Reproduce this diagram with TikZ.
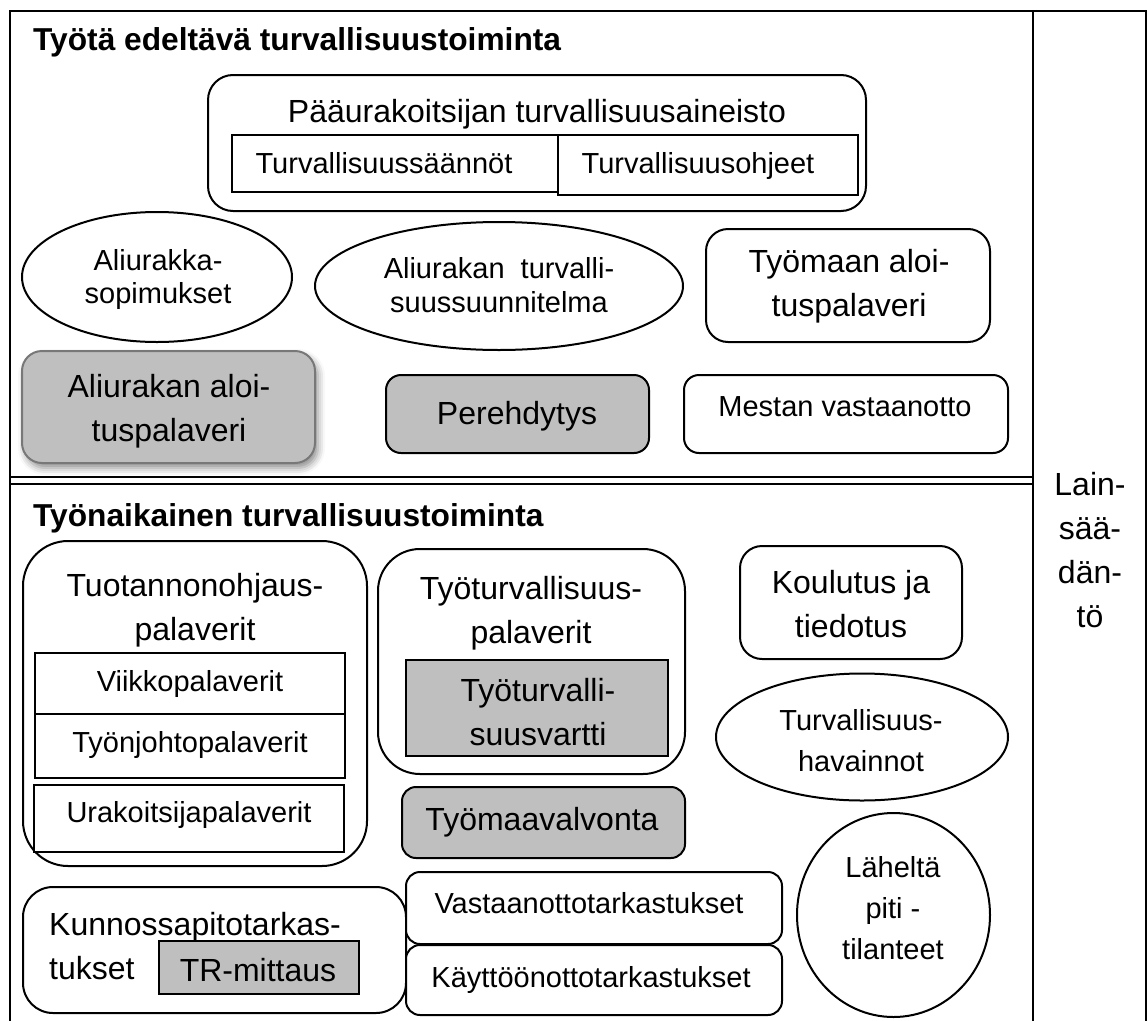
\documentclass[tikz,border=0pt]{standalone}
\usepackage{fontspec}
\setmainfont{Liberation Sans}
\usetikzlibrary{shapes.geometric,shadows.blur}
\definecolor{boxgray}{RGB}{191,191,191}
\definecolor{edgegray}{RGB}{120,120,120}
\tikzset{
  big/.style={font=\fontsize{32}{44}\selectfont, align=center, inner sep=0pt},
  sml/.style={font=\fontsize{29}{41}\selectfont, align=center, inner sep=0pt},
  bl/.style={anchor=base},
  ttl/.style={font=\bfseries\fontsize{31.7}{38}\selectfont, inner sep=0pt, anchor=base west},
  framel/.style={line width=2.2pt},
  shp/.style={draw, line width=2pt, inner sep=0pt, fill=white},
  rbox/.style={shp, rounded corners=#1},
  rbox/.default=20pt,
  sqbox/.style={shp},
  oval/.style={shp, ellipse},
  grayfill/.style={fill=boxgray},
}
\begin{document}
\begin{tikzpicture}[x=1pt,y=1pt]
\useasboundingbox (0,0) rectangle (1148,-1020);
\clip (0,0) rectangle (1148,-1020);
% frames
\draw[framel] (10,-1030) -- (10,-11) -- (1146,-11) -- (1146,-1030);
\draw[framel] (1033,-11) -- (1033,-1030);
\draw[framel] (10,-477) -- (1033,-477);
\draw[framel] (10,-484) -- (1033,-484);

% ---------- top section ----------
\node[ttl] (title1) at (33,-50) {Työtä edeltävä turvallisuustoiminta};

\node[rbox=25pt, minimum width=658pt, minimum height=136pt] (paa) at (537,-143) {};
\node[big, bl] (paat) at (537,-122) {Pääurakoitsijan turvallisuusaineisto};
\node[sqbox, minimum width=326pt, minimum height=57pt] (saan) at (395,-163.5) {};
\node[sml, bl] (saant) at (384,-173.5) {Turvallisuussäännöt};
\node[sqbox, minimum width=300pt, minimum height=60pt] (ohj) at (708,-165) {};
\node[sml, bl] (ohjt) at (698,-173.5) {Turvallisuusohjeet};

\node[oval, minimum width=270pt, minimum height=130pt] (aliso) at (157,-277) {};
\node[sml, font=\fontsize{29}{33}\selectfont] (alisot) at (158,-279) {Aliurakka-\\sopimukset};

\node[oval, minimum width=368pt, minimum height=128pt] (alitsu) at (499,-286) {};
\node[sml, font=\fontsize{29}{34}\selectfont] (alitsut) at (499,-285) {Aliurakan~ turvalli-\\suussuunnitelma};

\node[rbox=22pt, minimum width=284pt, minimum height=113pt] (tyomaan) at (848,-285.5) {};
\node[big] (tyomaant) at (849,-286.5) {Työmaan aloi-\\tuspalaveri};

\node[rbox=20pt, minimum width=293pt, minimum height=112pt, draw=edgegray, fill=boxgray,
  blur shadow={shadow xshift=3pt, shadow yshift=-5pt, shadow blur radius=7pt, shadow opacity=45}] (aliapal) at (168.5,-407) {};
\node[big] (aliapalt) at (169,-411) {Aliurakan aloi-\\tuspalaveri};

\node[rbox=15pt, minimum width=263pt, minimum height=78pt, grayfill] (pere) at (517.5,-414) {};
\node[big, bl] (peret) at (517,-424) {Perehdytys};

\node[rbox=15pt, minimum width=324pt, minimum height=78pt] (mestan) at (846,-414) {};
\node[sml, bl] (mestant) at (845,-416) {Mestan vastaanotto};

% ---------- bottom section ----------
\node[ttl] (title2) at (33,-526) {Työnaikainen turvallisuustoiminta};

\node[rbox=45pt, minimum width=344pt, minimum height=325pt] (tuot) at (195,-703.5) {};
\node[big] (tuott) at (195,-610.5) {Tuotannonohjaus-\\palaverit};
\node[sqbox, minimum width=310pt, minimum height=61pt] (viikko) at (190,-683.5) {};
\node[sml, bl] (viikkot) at (190,-691.5) {Viikkopalaverit};
\node[sqbox, minimum width=310pt, minimum height=64pt] (tyonj) at (190,-746) {};
\node[sml, bl] (tyonjt) at (190,-752.5) {Työnjohtopalaverit};
\node[sqbox, minimum width=310pt, minimum height=67pt] (urak) at (189,-818.5) {};
\node[sml, bl] (urakt) at (189,-822.5) {Urakoitsijapalaverit};

\node[rbox=42pt, minimum width=307pt, minimum height=225pt] (tyotp) at (531.5,-661.5) {};
\node[big] (tyotpt) at (531,-613) {Työturvallisuus-\\palaverit};
\node[sqbox, minimum width=262pt, minimum height=96pt, grayfill] (vartti) at (537,-708) {};
\node[big] (varttit) at (538,-712) {Työturvalli-\\suusvartti};

\node[rbox=14pt, minimum width=283pt, minimum height=71pt, grayfill] (valv) at (543.5,-822.5) {};
\node[big, bl] (valvt) at (542,-830) {Työmaavalvonta};

\node[rbox=22pt, minimum width=222pt, minimum height=113pt] (koul) at (851,-602.5) {};
\node[big] (koult) at (851,-604.5) {Koulutus ja\\tiedotus};

\node[oval, minimum width=292pt, minimum height=127pt] (havain) at (862,-737) {};
\node[sml] (havaint) at (861,-740.5) {Turvallisuus-\\havainnot};

\node[oval, minimum width=193pt, minimum height=204pt] (lahelta) at (893.5,-915) {};
\node[sml] (laheltat) at (893,-908) {Läheltä\\piti -\\tilanteet};

\node[rbox=30pt, minimum width=383pt, minimum height=126pt] (kunn) at (214.5,-950) {};
\node[big, align=left, anchor=west] (kunnt) at (49,-946) {Kunnossapitotarkas-\\tukset};
\node[sqbox, minimum width=200pt, minimum height=53pt, grayfill] (trm) at (259,-967.5) {};
\node[big, bl] (trmt) at (258,-981) {TR-mittaus};

\node[rbox=14pt, minimum width=376pt, minimum height=72pt] (vast) at (594,-908) {};
\node[sml, bl] (vastt) at (589,-913) {Vastaanottotarkastukset};
\node[rbox=14pt, minimum width=376pt, minimum height=70pt] (kayt) at (594,-980) {};
\node[sml, bl] (kaytt) at (591,-987) {Käyttöönottotarkastukset};

% ---------- right column ----------
\node[big] (laki) at (1090,-550) {Lain-\\sää-\\dän-\\tö};
\end{tikzpicture}
\end{document}
